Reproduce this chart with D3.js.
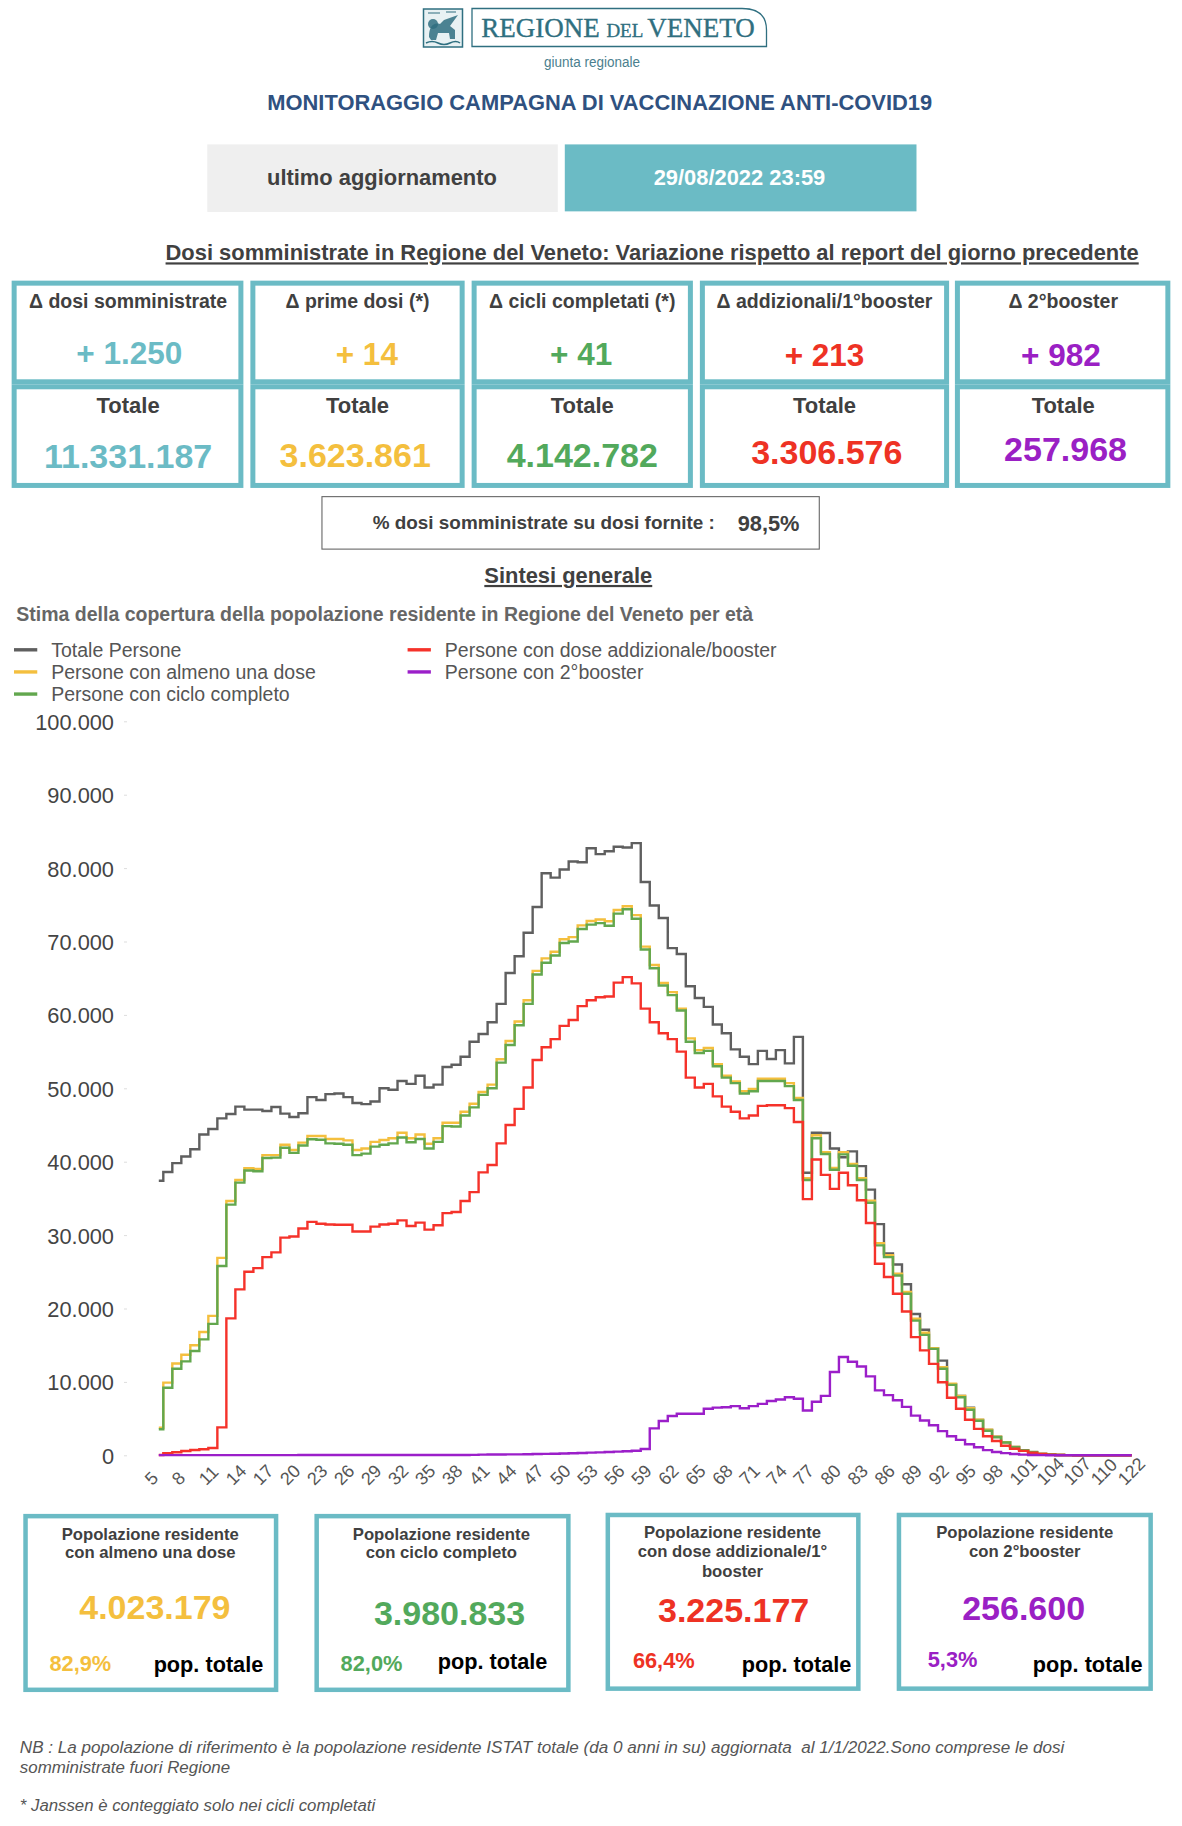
<!DOCTYPE html>
<html lang="it"><head><meta charset="utf-8"><title>Monitoraggio vaccinazione</title>
<script src="https://cdn.jsdelivr.net/npm/d3@7/dist/d3.min.js"></script>
<style>html,body{margin:0;padding:0;background:#fff}svg{display:block}text{font-family:"Liberation Sans",Arial,sans-serif}</style>
</head><body><div id="c"></div>
<script>
const ages=[5,6,7,8,9,10,11,12,13,14,15,16,17,18,19,20,21,22,23,24,25,26,27,28,29,30,31,32,33,34,35,36,37,38,39,40,41,42,43,44,45,46,47,48,49,50,51,52,53,54,55,56,57,58,59,60,61,62,63,64,65,66,67,68,69,70,71,72,73,74,75,76,77,78,79,80,81,82,83,84,85,86,87,88,89,90,91,92,93,94,95,96,97,98,99,100,101,102,103,104,105,106,107,108,109,110,111,112,122];
const xTickAges=[5,8,11,14,17,20,23,26,29,32,35,38,41,44,47,50,53,56,59,62,65,68,71,74,77,80,83,86,89,92,95,98,101,104,107,110,122];
const yTicks=[0,10000,20000,30000,40000,50000,60000,70000,80000,90000,100000];
const totale=[37400,38600,39800,40700,41700,43700,44450,45900,46500,47500,47100,47100,46900,47450,46550,46100,46600,48800,48400,49200,49300,48800,48000,47850,48200,50000,49800,51000,50600,51700,50100,50500,52900,53200,54300,56350,57400,59000,61500,
65700,68000,71200,74700,79300,78700,79800,80900,80800,82700,81900,82300,82900,82800,83400,78100,74900,73200,69100,68300,63900,62300,61100,58700,57500,55300,54300,53300,55100,54000,55200,53400,57000,
38500,43950,43900,41800,40600,41400,39400,36200,31500,27500,26000,23300,19250,17100,14600,12900,9700,8100,6500,4800,3450,2550,1800,1130,700,400,
200,100,50,30,15,8,4,2,1,0,0];
const almenoUna=[3750,9900,12500,13700,15000,16800,19000,26900,34650,37500,39100,39000,40900,40900,42300,41600,42600,43500,43500,43100,43100,42900,41600,41800,42700,42950,43200,43950,43200,43700,42450,43200,45300,45300,46800,47900,49500,50500,53950,
56450,59100,62000,66000,67700,68600,70300,70600,72200,72800,73000,72750,74300,74800,73600,69300,66800,64350,63100,60850,56800,55200,55500,53300,51700,50950,49600,49900,51300,51300,51300,50700,48700,
37750,43600,41300,39150,41300,39700,37750,34700,28900,27250,24750,22250,18600,16700,14600,12000,9750,8100,6400,4850,3500,2550,1800,1130,700,400,
200,100,50,30,15,8,4,2,1,0,0];
const cicloCompleto=[3550,9200,11800,12800,14200,15800,17900,25800,34150,37150,38800,38700,40500,40550,41900,41200,42200,43050,43000,42500,42450,42300,40900,41100,42050,42300,42500,43300,42650,43100,41800,42700,44850,44800,46300,47400,49100,50000,53500,
55900,58600,61500,65500,67100,68100,69800,70000,71700,72300,72500,72150,73800,74400,73100,68900,66350,64000,62700,60600,56350,54800,55100,53000,51450,50700,49300,49600,51000,51000,51000,50300,48400,
37500,43200,41050,38900,41000,39450,37500,34400,28600,27000,24500,22000,18350,16400,14500,11800,9600,7900,6200,4700,3350,2450,1750,1100,700,450,
200,100,50,30,15,8,4,2,1,0,0];
const addizionale=[50,270,410,590,720,820,1000,3800,18650,22600,25000,25500,27000,27650,29650,29800,30900,31800,31550,31450,31400,31400,30500,30500,31150,31450,31550,32000,31250,31700,30750,31350,33000,33150,34650,35850,38550,39550,42500,
45000,47200,50100,53850,55600,56700,58500,59300,61200,62000,62400,62500,64400,65150,64300,60850,59000,57500,56700,55000,51450,50100,50600,48900,47500,46800,45900,46300,47600,47700,47700,47300,45400,
34900,40300,38200,36300,38500,36800,34750,31650,26100,24300,22000,19600,16100,14300,12450,9950,7850,6350,4850,3600,2600,1950,1300,900,600,350,
180,80,40,20,10,5,3,1,0,0,0];
const secondoBooster=[20,20,20,20,20,20,25,25,25,30,30,30,30,30,30,30,35,35,35,35,35,35,35,35,35,40,40,40,40,40,40,40,45,45,50,55,
90,100,110,120,130,150,180,200,220,240,270,320,360,400,450,500,550,630,860,
3670,4670,5350,5670,5670,5670,6350,6500,6550,6700,6400,6700,7000,7400,7600,7900,7700,6100,7300,8100,11350,13400,12750,12100,10750,
8850,8200,7500,6600,5400,4750,4100,3300,2600,2100,1500,1100,700,450,300,180,90,50,
30,15,8,4,2,1,0,0,0,0,0];

const seriesNames=["Totale Persone","Persone con almeno una dose","Persone con ciclo completo","Persone con dose addizionale/booster","Persone con 2°booster"];
const seriesColors=["#5f5f5f","#f4bf3e","#62a74e","#f5322a","#9b1fc9"];
const seriesValues=[totale,almenoUna,cicloCompleto,addizionale,secondoBooster];

const TEAL="#6bbbc5",DARK="#404040",YEL="#f4bf3e",GRN="#52a95c",RED="#ee3224",PUR="#9a20c4";
const S=1182/1015;
const svg=d3.select("#c").append("svg").attr("width",1182).attr("height",1826).attr("viewBox","0 0 1182 1826");

function T(x,y,s,o={}){
  return svg.append("text").attr("x",x*S).attr("y",y*S).attr("dy",".35em")
   .attr("text-anchor",o.a||"middle").attr("font-size",o.fs||18).attr("font-weight",o.fw||"bold")
   .attr("fill",o.fill||DARK).attr("font-style",o.st||null).attr("text-decoration",o.dec||null).text(s);
}
function box(x0,y0,x1,y1,sw,col){
  svg.append("rect").attr("x",x0*S+sw/2).attr("y",y0*S+sw/2).attr("width",(x1-x0)*S-sw).attr("height",(y1-y0)*S-sw)
   .attr("fill","none").attr("stroke",col).attr("stroke-width",sw);
}

/* logo */
const LOGO="#2f6f80";
const g=svg.append("g");
g.append("rect").attr("x",423.5).attr("y",9).attr("width",39).attr("height",38).attr("fill","#e8f1f3").attr("stroke",LOGO).attr("stroke-width",1.5);
g.append("path").attr("d","M429 37 C429 27 433 22 440 24 L444 20 L458 15 L450 26 L455 30 L455 39 L450 39 L449 33 L438 33 L436 40 L431 40 Z").attr("fill",LOGO).attr("opacity",.85);
g.append("circle").attr("cx",433).attr("cy",24).attr("r",5).attr("fill",LOGO).attr("opacity",.85);
g.append("path").attr("d","M426 43 Q432 40 438 43 T450 43 T460 43").attr("fill","none").attr("stroke",LOGO).attr("stroke-width",1.5);
g.append("path").attr("d","M428 13 H440 M446 12 H456").attr("stroke",LOGO).attr("stroke-width",1.2);
g.append("path").attr("d","M472 8.5 H742 Q766.5 8.5 766.5 30 V46.5 H472 Z").attr("fill","none").attr("stroke",LOGO).attr("stroke-width",1.3);
const lt=g.append("text").attr("x",618).attr("y",37).attr("text-anchor","middle").attr("fill",LOGO).attr("stroke",LOGO).attr("stroke-width",.35).style("font-family","'Liberation Serif',serif");
lt.append("tspan").attr("font-size",27).text("REGIONE ");
lt.append("tspan").attr("font-size",19).text("DEL ");
lt.append("tspan").attr("font-size",27).text("VENETO");
g.append("text").attr("x",592).attr("y",67).attr("text-anchor","middle").attr("font-size",15.5).attr("fill","#4b7f8e").attr("textLength",96).attr("lengthAdjust","spacingAndGlyphs").text("giunta regionale");

T(515,88,"MONITORAGGIO CAMPAGNA DI VACCINAZIONE ANTI-COVID19",{fs:21.9,fill:"#2f5180"});

/* update strip */
svg.append("rect").attr("x",178*S).attr("y",124*S).attr("width",301*S).attr("height",58*S).attr("fill","#efefef");
svg.append("rect").attr("x",485*S).attr("y",124*S).attr("width",302*S).attr("height",57.5*S).attr("fill",TEAL);
T(328,152.5,"ultimo aggiornamento",{fs:21.9});
T(635,152,"29/08/2022 23:59",{fs:21.9,fill:"#fff"});

T(560,217,"Dosi somministrate in Regione del Veneto: Variazione rispetto al report del giorno precedente",{fs:21.9,dec:"underline"});

/* KPI boxes */
const kpiEdges=[[10,209],[215,399],[405,595],[601,815],[820,1005]];
const kpiTitles=["Δ dosi somministrate","Δ prime dosi (*)","Δ cicli completati (*)","Δ addizionali/1°booster","Δ 2°booster"];
const kpiTitleX=[110,307,500,708,913];
const kpiDelta=["+ 1.250","+ 14","+ 41","+ 213","+ 982"];
const kpiDeltaPos=[[111,303],[315,304],[499,304],[708,305],[911,305]];
const kpiTotal=["11.331.187","3.623.861","4.142.782","3.306.576","257.968"];
const kpiTotalPos=[[110,392],[305,391],[500,391],[710,388],[915,386]];
const kpiCols=[TEAL,YEL,GRN,RED,PUR];
kpiEdges.forEach((e,i)=>{
  box(e[0],241,e[1],330,5,TEAL); box(e[0],330,e[1],419,5,TEAL);
  T(kpiTitleX[i],259,kpiTitles[i],{fs:19.5});
  T(kpiDeltaPos[i][0],kpiDeltaPos[i][1],kpiDelta[i],{fs:31.5,fill:kpiCols[i]});
  T(kpiTitleX[i],348,"Totale",{fs:22});
  T(kpiTotalPos[i][0],kpiTotalPos[i][1],kpiTotal[i],{fs:34,fill:kpiCols[i]});
});
box(276,426,704,472,1.1,"#666");
T(467,449,"% dosi somministrate su dosi fornite :",{fs:18.9});
T(660,449,"98,5%",{fs:21.8});

T(488,494,"Sintesi generale",{fs:21.9,dec:"underline"});
T(14,527,"Stima della copertura della popolazione residente in Regione del Veneto per età",{fs:19.5,a:"start",fill:"#666"});

/* legend */
const legendPos=[[12,558],[12,577],[12,596],[350,558],[350,577]];
seriesNames.forEach((n,i)=>{
  const [lx,ly]=legendPos[i];
  svg.append("line").attr("x1",lx*S).attr("x2",(lx+20)*S).attr("y1",ly*S).attr("y2",ly*S).attr("stroke",seriesColors[i]).attr("stroke-width",3.4);
  T(lx+32,ly,n,{fs:19.5,fw:"normal",a:"start",fill:"#555"});
});

/* chart */
const x=d3.scalePoint().domain(ages).range([158.8,1131.7]);
const y=d3.scaleLinear().domain([0,100000]).range([1455.3,721.3]);
const fmt=v=>d3.format(",")(v).replace(/,/g,".");
const yAx=svg.append("g").attr("transform","translate(127,0)")
  .call(d3.axisLeft(y).tickValues(yTicks).tickFormat(fmt).tickSize(3).tickPadding(10));
yAx.select(".domain").remove();
yAx.selectAll(".tick line").attr("stroke","#ddd");
yAx.selectAll("text").attr("font-size",21.8).attr("fill","#444").attr("y",1).style("font-family","'Liberation Sans',sans-serif");
const xAx=svg.append("g").attr("transform","translate(0,1455.3)")
  .call(d3.axisBottom(x).tickValues(xTickAges).tickSize(0));
xAx.select(".domain").remove();
xAx.selectAll("text").attr("font-size",18).attr("fill","#555").style("font-family","'Liberation Sans',sans-serif")
  .attr("text-anchor","start").attr("x",0).attr("y",0).attr("dy",".35em").attr("transform","translate(-11.5,26.5) rotate(-45)");
const line=d3.line().x((d,i)=>x(ages[i])).y(d=>y(d)).curve(d3.curveStep);
svg.append("g").selectAll("path").data(seriesValues).join("path")
  .attr("d",d=>line(d)).attr("fill","none").attr("stroke",(d,i)=>seriesColors[i]).attr("stroke-width",2.4).attr("stroke-linejoin","miter");

/* bottom boxes */
const popBoxes=[[20,1300,239,1453],[270,1300,490,1453],[520,1299,739,1452],[770,1299,990,1452]];
const popTitles=[["Popolazione residente","con almeno una dose"],["Popolazione residente","con ciclo completo"],["Popolazione residente","con dose addizionale/1°","booster"],["Popolazione residente","con 2°booster"]];
const popTitleX=[129,379,629,880];
const popTitleY=[[1317,1333],[1317,1333],[1316,1332,1349],[1316,1332]];
const popValues=["4.023.179","3.980.833","3.225.177","256.600"];
const popValuePos=[[133,1380],[386,1385],[630,1383],[879,1381]];
const popPct=["82,9%","82,0%","66,4%","5,3%"];
const popPctPos=[[69,1428],[319,1428],[570,1426],[818,1425]];
const popLabelPos=[[179,1429],[423,1427],[684,1429],[934,1429]];
const popCols=[YEL,GRN,RED,PUR];
popBoxes.forEach((b,i)=>{
  box(b[0],b[1],b[2],b[3],4.5,TEAL);
  popTitles[i].forEach((l,k)=>T(popTitleX[i],popTitleY[i][k],l,{fs:16.7}));
  T(popValuePos[i][0],popValuePos[i][1],popValues[i],{fs:34,fill:popCols[i]});
  T(popPctPos[i][0],popPctPos[i][1],popPct[i],{fs:21.8,fill:popCols[i]});
  T(popLabelPos[i][0],popLabelPos[i][1],"pop. totale",{fs:21.7,fill:"#000"});
});

const notes=[[1500,"NB : La popolazione di riferimento è la popolazione residente ISTAT totale (da 0 anni in su) aggiornata  al 1/1/2022.Sono comprese le dosi",17.1],[1517,"somministrate fuori Regione",16.9],[1550,"* Janssen è conteggiato solo nei cicli completati",16.8]];
notes.forEach(n=>T(17,n[0],n[1],{fs:n[2],fw:"normal",st:"italic",a:"start",fill:"#555"}).style("white-space","pre"));
</script></body></html>
